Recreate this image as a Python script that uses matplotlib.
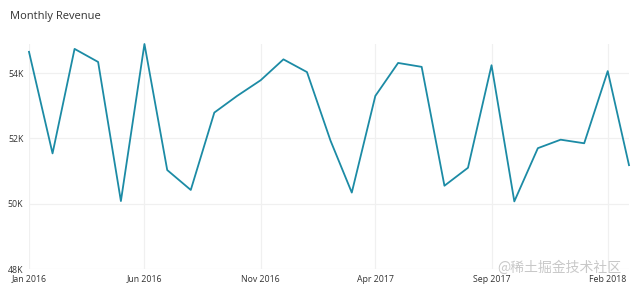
import matplotlib
matplotlib.use("Agg")
import matplotlib.pyplot as plt
import pandas as pd

months = pd.date_range("2016-01-01", "2018-03-01", freq="MS")
revenue = [54650, 51540, 54740, 54340, 50080, 54890, 51030, 50420, 52790, 53300,
           53780, 54420, 54030, 51930, 50340, 53300, 54310, 54190, 50550, 51100,
           54240, 50070, 51700, 51960, 51850, 54060, 51180]
tick_dates = pd.to_datetime(["2016-01-01", "2016-06-01", "2016-11-01",
                             "2017-04-01", "2017-09-01", "2018-02-01"])
tick_labels = ["Jan 2016", "Jun 2016", "Nov 2016", "Apr 2017", "Sep 2017", "Feb 2018"]
y_ticks = [48000, 50000, 52000, 54000]
y_labels = ["48K", "50K", "52K", "54K"]

plt.rcParams['font.family'] = ['Open Sans', 'Noto Sans CJK SC', 'DejaVu Sans']

fig = plt.figure(figsize=(6.32, 2.87), dpi=100)
ax = fig.add_axes([29/632, 1 - 269/287, 600/632, (269 - 44)/287])

ax.plot(months, revenue, color="#1c8ba5", lw=1.3, clip_on=False, zorder=3)
ax.set_xlim(months[0], months[-1])
ax.set_ylim(48000, max(revenue))
ax.set_xticks(tick_dates)
ax.set_xticklabels(tick_labels)
ax.set_yticks(y_ticks)
ax.set_yticklabels(y_labels)
for s in ax.spines.values():
    s.set_visible(False)
ax.tick_params(length=0, labelsize=6.3, colors="#333333")
ax.tick_params(axis="x", pad=4)
ax.tick_params(axis="y", pad=4)
ax.grid(True, color="#f0f0f0", lw=0.9)
ax.set_axisbelow(True)

fig.text(10/632, 1 - 17/287, "Monthly Revenue", fontsize=8, color="#333333",
         va="center", ha="left")
fig.text(621/632, 1 - 268/287, "@稀土掘金技术社区", fontsize=10, color="#c8c8c8",
         va="center", ha="right", family=['Noto Sans CJK SC', 'DejaVu Sans'])

fig.savefig("out.png", dpi=100)
